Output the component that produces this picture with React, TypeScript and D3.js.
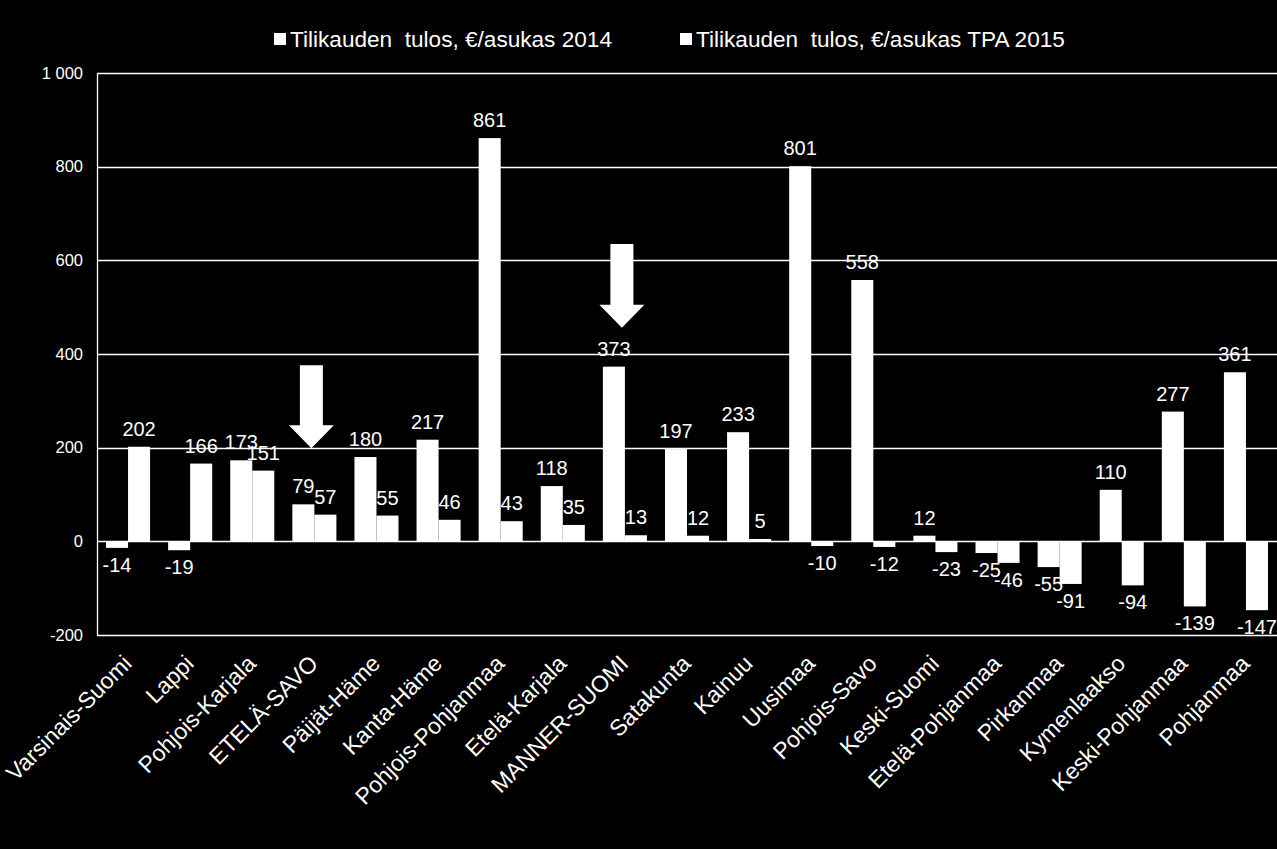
import React from "react";
import * as d3 from "d3";

const categories = [
  "Varsinais-Suomi", "Lappi", "Pohjois-Karjala", "ETELÄ-SAVO", "Päijät-Häme",
  "Kanta-Häme", "Pohjois-Pohjanmaa", "Etelä-Karjala", "MANNER-SUOMI", "Satakunta",
  "Kainuu", "Uusimaa", "Pohjois-Savo", "Keski-Suomi", "Etelä-Pohjanmaa",
  "Pirkanmaa", "Kymenlaakso", "Keski-Pohjanmaa", "Pohjanmaa",
];
const series2014 = [-14, -19, 173, 79, 180, 217, 861, 118, 373, 197, 233, 801, 558, 12, -25, -55, 110, 277, 361];
const series2015 = [202, 166, 151, 57, 55, 46, 43, 35, 13, 12, 5, -10, -12, -23, -46, -91, -94, -139, -147];
const seriesNames = ["Tilikauden  tulos, €/asukas 2014", "Tilikauden  tulos, €/asukas TPA 2015"];
const yTicks = [-200, 0, 200, 400, 600, 800, 1000];
const yTickLabels = ["-200", "0", "200", "400", "600", "800", "1 000"];
// arrows: category, shaft top value, head base value, tip value
const arrowCats = ["ETELÄ-SAVO", "MANNER-SUOMI"];
const arrowTop = [376, 635];
const arrowHeadBase = [248, 505];
const arrowTip = [199, 456];

const W = 1277;
const H = 849;
const FONT = "'Liberation Sans', Arial, sans-serif";

export default function App() {
  const left = 97;
  const right = 1277;
  const top = 73;
  const bottom = 635;

  const y = d3.scaleLinear().domain([-200, 1000]).range([bottom, top]);
  const x0 = d3.scaleBand<string>().domain(categories).range([left, right]).padding(0);
  const x1 = d3
    .scaleBand<number>()
    .domain([0, 1])
    .range([0, x0.bandwidth()])
    .paddingInner(0)
    .paddingOuter(0.41);

  const seriesData = [series2014, series2015];

  const bars: React.ReactNode[] = [];
  const labels: React.ReactNode[] = [];
  seriesData.forEach((vals, si) => {
    vals.forEach((v, ci) => {
      const bx = (x0(categories[ci]) as number) + (x1(si) as number);
      const bw = x1.bandwidth();
      const y0 = y(0);
      const yv = y(v);
      bars.push(
        <rect
          key={`b${si}-${ci}`}
          x={bx}
          y={Math.min(y0, yv)}
          width={bw}
          height={Math.abs(yv - y0)}
          fill="#ffffff"
        />
      );
      const ly = v >= 0 ? yv - 11 : yv + 24;
      labels.push(
        <text
          key={`l${si}-${ci}`}
          x={bx + bw / 2}
          y={ly}
          textAnchor="middle"
          fontSize={20}
          fill="#ffffff"
          fontFamily={FONT}
        >
          {v}
        </text>
      );
    });
  });

  const arrows = arrowCats.map((c, i) => {
    const cx = (x0(c) as number) + x0.bandwidth() / 2 - 3;
    const sw = 11.5;
    const hw = 22.5;
    const yt = y(arrowTop[i]);
    const yh = y(arrowHeadBase[i]);
    const yp = y(arrowTip[i]);
    const p = d3.path();
    p.moveTo(cx - sw, yt);
    p.lineTo(cx + sw, yt);
    p.lineTo(cx + sw, yh);
    p.lineTo(cx + hw, yh);
    p.lineTo(cx, yp);
    p.lineTo(cx - hw, yh);
    p.lineTo(cx - sw, yh);
    p.closePath();
    return <path key={`a${i}`} d={p.toString()} fill="#ffffff" />;
  });

  const legendX = [274, 680];

  return (
    <svg
      width={W}
      height={H}
      style={{ position: "absolute", left: 0, top: 0, display: "block" }}
    >
      <rect x={0} y={0} width={W} height={H} fill="#000000" />
      {/* legend */}
      {seriesNames.map((n, i) => (
        <g key={`lg${i}`}>
          <rect x={legendX[i]} y={33} width={12} height={12} fill="#ffffff" />
          <text
            x={legendX[i] + 16}
            y={47}
            fontSize={22.6}
            fill="#ffffff"
            fontFamily={FONT}
            style={{ whiteSpace: "pre" }}
          >
            {n}
          </text>
        </g>
      ))}
      {/* grid */}
      {yTicks.map((t, i) => (
        <g key={`g${i}`}>
          <line x1={left} x2={right} y1={Math.round(y(t)) + 0.5} y2={Math.round(y(t)) + 0.5} stroke="#ffffff" strokeWidth={1.3} />
          <text
            x={83}
            y={y(t) + 5.5}
            textAnchor="end"
            fontSize={16.5}
            fill="#ffffff"
            fontFamily={FONT}
          >
            {yTickLabels[i]}
          </text>
        </g>
      ))}
      <line x1={left + 0.5} x2={left + 0.5} y1={top} y2={bottom + 1} stroke="#ffffff" strokeWidth={1.3} />
      {bars}
      {labels}
      {arrows}
      {/* category labels */}
      {categories.map((c) => {
        const cx = (x0(c) as number) + x0.bandwidth() / 2 + 5;
        const cy = 665;
        return (
          <text
            key={`c${c}`}
            transform={`translate(${cx},${cy}) rotate(-45)`}
            textAnchor="end"
            fontSize={23}
            fill="#ffffff"
            fontFamily={FONT}
          >
            {c}
          </text>
        );
      })}
    </svg>
  );
}
